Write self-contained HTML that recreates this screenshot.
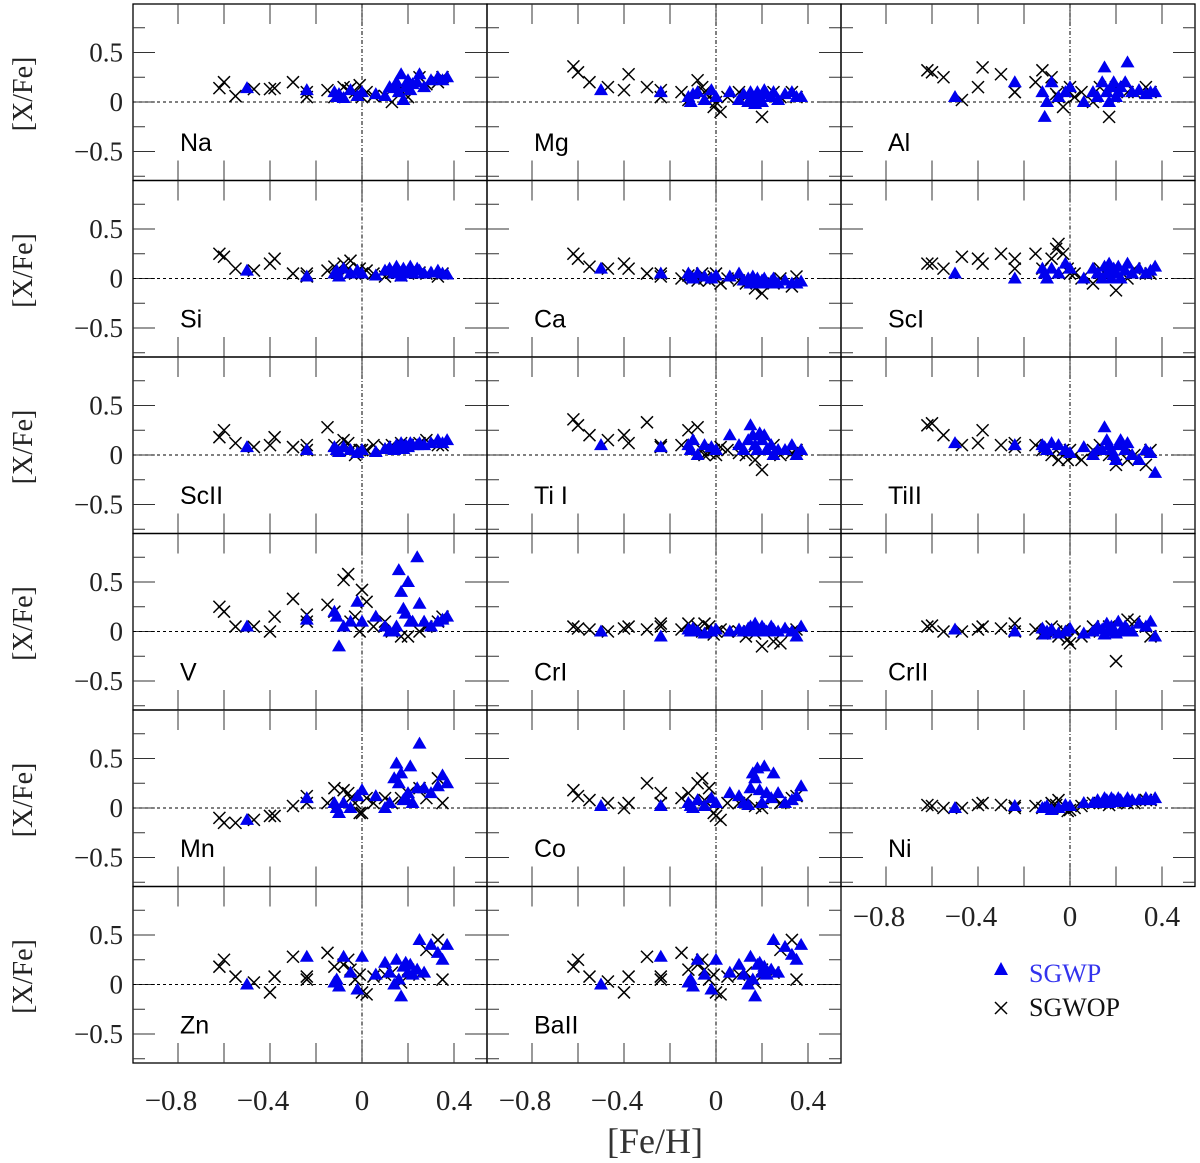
<!DOCTYPE html>
<html><head><meta charset="utf-8"><style>
html,body{margin:0;padding:0;background:#fff;}
svg{display:block;}
</style></head><body>
<svg id="chart" width="1200" height="1163" xmlns="http://www.w3.org/2000/svg"></svg>
<script>
const blueFe=[-0.5,-0.24,-0.12,-0.11,-0.1,-0.08,-0.05,-0.02,0.0,0.06,0.1,0.12,0.14,0.15,0.16,0.17,0.18,0.19,0.2,0.21,0.22,0.24,0.25,0.27,0.3,0.33,0.35,0.37];
const crossFe=[-0.62,-0.6,-0.55,-0.47,-0.4,-0.38,-0.3,-0.24,-0.24,-0.15,-0.12,-0.08,-0.06,-0.05,-0.03,-0.01,0.0,0.02,0.05,0.1,0.13,0.17,0.2,0.25,0.28,0.33,0.35];
const elements=["Na","Mg","Al","Si","Ca","ScI","ScII","Ti I","TiII","V","CrI","CrII","Mn","Co","Ni","Zn","BaII"];
const blueVals=[
[0.14,0.12,0.1,0.05,0.08,0.04,0.12,0.06,0.1,0.08,0.06,0.15,0.14,0.2,0.1,0.28,0.02,0.15,0.22,0.12,0.18,0.2,0.28,0.15,0.22,0.25,0.22,0.25],
[0.12,0.1,0.05,0.0,0.08,0.1,0.02,0.12,0.05,0.1,0.02,0.08,0.0,0.1,0.05,-0.02,0.1,0.05,0.0,0.12,0.08,0.05,0.1,0.02,0.08,0.1,0.05,0.05],
[0.05,0.2,0.1,-0.15,0.0,0.2,0.05,0.1,0.15,0.0,0.1,0.05,0.2,0.35,0.1,0.0,0.15,0.2,0.05,0.1,0.15,0.2,0.4,0.1,0.12,0.08,0.1,0.1],
[0.08,0.02,0.05,0.08,0.02,0.1,0.05,0.08,0.05,0.03,0.08,0.1,0.05,0.12,0.08,0.02,0.1,0.05,0.08,0.12,0.05,0.1,0.08,0.05,0.06,0.08,0.05,0.04],
[0.1,0.05,0.05,0.02,0.0,0.05,0.02,0.0,0.03,0.02,0.05,-0.02,0.0,-0.05,0.02,-0.03,0.0,-0.05,-0.02,0.0,-0.05,-0.03,0.0,-0.05,-0.02,-0.05,-0.05,-0.03],
[0.05,0.0,0.1,0.05,0.0,0.1,0.05,0.15,0.1,0.0,0.1,0.05,0.0,0.12,0.05,0.15,0.0,0.1,0.05,0.12,0.0,0.08,0.15,0.05,0.1,0.05,0.08,0.12],
[0.08,0.05,0.08,0.05,0.03,0.08,0.05,0.02,0.05,0.03,0.06,0.08,0.05,0.1,0.08,0.12,0.06,0.1,0.08,0.12,0.1,0.1,0.12,0.1,0.12,0.15,0.12,0.15],
[0.1,0.08,0.1,0.05,0.15,0.0,0.1,0.08,0.05,0.2,0.1,0.05,0.15,0.3,0.2,0.1,0.05,0.22,0.15,0.2,0.05,0.1,0.0,0.05,0.05,0.1,0.0,0.05],
[0.12,0.1,0.1,0.08,0.05,0.12,0.1,0.05,0.02,0.08,0.0,0.05,0.05,0.28,0.15,0.1,0.05,0.0,-0.05,0.1,0.15,0.05,0.12,0.0,-0.05,0.05,0.02,-0.18],
[0.05,0.12,0.2,0.15,-0.15,0.05,0.1,0.3,0.1,0.15,0.05,0.0,0.0,0.05,0.62,0.4,0.23,0.18,0.5,0.1,0.1,0.75,0.28,0.1,0.05,0.1,0.12,0.15],
[0.0,-0.05,0.02,0.0,0.03,0.0,-0.02,0.0,0.02,0.0,0.02,0.0,0.03,0.05,0.0,0.08,0.02,0.0,0.05,0.02,0.0,0.05,0.02,0.0,0.03,0.0,-0.05,0.05],
[0.02,0.0,0.03,-0.03,0.0,0.02,-0.02,0.0,0.03,-0.02,0.0,0.05,0.02,-0.03,0.08,0.0,0.05,0.02,-0.02,0.1,0.0,0.05,0.02,0.0,0.08,0.05,0.1,-0.05],
[-0.12,0.1,0.05,0.0,-0.05,0.05,0.0,0.12,0.18,0.12,0.0,0.05,0.3,0.45,0.25,0.35,0.08,0.1,0.15,0.42,0.05,0.2,0.65,0.2,0.15,0.22,0.33,0.25],
[0.02,0.02,0.05,0.02,0.0,0.08,0.02,0.1,0.05,0.15,0.12,0.05,0.03,0.2,0.35,0.3,0.4,0.18,0.05,0.42,0.15,0.1,0.35,0.15,0.05,0.08,0.12,0.22],
[0.0,0.02,0.0,0.0,0.02,-0.02,0.0,0.03,0.02,0.05,0.05,0.08,0.05,0.1,0.08,0.05,0.1,0.08,0.06,0.1,0.08,0.06,0.1,0.08,0.08,0.1,0.08,0.1],
[0.0,0.28,0.02,0.05,-0.02,0.28,0.12,-0.05,0.28,0.1,0.22,0.12,0.0,0.25,0.05,-0.12,0.18,0.22,0.12,0.2,0.1,0.15,0.45,0.12,0.4,0.32,0.25,0.4],
[0.0,0.28,0.02,0.05,-0.02,0.25,0.1,-0.05,0.25,0.12,0.2,0.1,0.0,0.28,0.05,-0.12,0.2,0.22,0.12,0.18,0.1,0.15,0.45,0.12,0.38,0.3,0.25,0.4]
];
const crossVals=[
[0.14,0.2,0.06,0.13,0.13,0.14,0.2,0.05,0.1,0.12,0.05,0.15,0.12,0.14,0.1,0.17,0.05,0.1,0.06,0.06,0.0,0.15,0.05,0.25,0.18,0.2,0.25],
[0.36,0.3,0.2,0.15,0.12,0.28,0.15,0.12,0.05,0.1,0.02,0.22,0.15,0.1,0.05,-0.05,0.0,-0.1,0.05,0.1,0.05,0.0,-0.15,0.1,0.05,0.1,0.05],
[0.32,0.3,0.25,0.02,0.15,0.35,0.28,0.1,0.1,0.2,0.32,0.25,0.08,0.05,-0.05,0.1,0.15,0.05,0.1,0.0,0.15,-0.15,0.15,0.1,0.1,0.15,0.1],
[0.25,0.22,0.1,0.08,0.15,0.2,0.05,0.05,0.02,0.08,0.12,0.15,0.1,0.18,0.05,0.1,0.05,0.08,0.05,0.02,0.06,0.03,0.05,0.06,0.05,0.02,0.05],
[0.25,0.2,0.12,0.1,0.15,0.1,0.05,0.02,0.05,0.0,0.03,-0.02,0.05,0.0,-0.02,0.02,0.05,-0.05,0.0,-0.02,-0.05,-0.1,-0.15,-0.05,0.0,-0.08,0.02],
[0.15,0.15,0.1,0.22,0.2,0.15,0.25,0.1,0.2,0.25,0.1,0.2,0.3,0.35,0.25,0.1,0.05,0.05,0.0,-0.05,0.1,0.05,-0.12,0.0,0.1,0.05,0.05],
[0.18,0.25,0.12,0.08,0.1,0.18,0.08,0.1,0.05,0.28,0.1,0.15,0.12,0.05,0.0,0.05,0.05,0.05,0.1,0.08,0.1,0.12,0.1,0.12,0.15,0.1,0.1],
[0.36,0.3,0.2,0.15,0.2,0.12,0.33,0.1,0.08,0.1,0.25,0.28,0.05,0.0,0.02,0.05,0.0,0.08,0.05,0.02,0.0,-0.05,-0.15,0.1,0.0,0.02,0.05],
[0.3,0.32,0.2,0.1,0.12,0.25,0.1,0.12,0.08,0.1,0.05,0.0,0.05,-0.05,0.05,-0.05,0.05,0.0,-0.05,0.05,0.1,0.0,-0.1,-0.05,0.0,-0.1,0.05],
[0.25,0.2,0.05,0.05,0.0,0.15,0.33,0.17,0.1,0.27,0.2,0.52,0.58,0.1,0.15,0.0,0.42,0.3,0.05,0.1,0.0,-0.05,-0.05,0.0,0.05,0.1,0.15],
[0.05,0.03,0.02,0.0,0.03,0.05,0.02,0.08,0.05,0.02,0.08,0.05,0.0,0.08,0.05,-0.03,0.0,0.02,0.0,0.0,-0.05,-0.02,-0.15,-0.1,-0.12,0.0,0.02],
[0.05,0.06,0.0,0.0,0.02,0.05,0.03,0.08,0.0,0.02,-0.02,0.05,0.0,-0.05,0.02,-0.08,-0.12,0.0,-0.05,0.05,0.0,0.05,-0.3,0.12,0.1,0.05,-0.05],
[-0.1,-0.15,-0.15,-0.12,-0.08,-0.08,0.02,0.12,0.05,0.05,0.2,0.18,0.15,0.1,0.05,-0.05,-0.05,0.1,0.05,0.1,0.05,0.1,0.15,0.2,0.1,0.3,0.05],
[0.18,0.12,0.08,0.05,0.0,0.05,0.25,0.15,0.05,0.1,0.15,0.25,0.3,0.08,0.2,-0.05,-0.08,-0.12,0.05,0.05,0.08,0.02,0.0,0.1,0.05,0.1,0.12],
[0.03,0.02,0.0,0.0,0.03,0.05,0.03,0.0,0.02,0.02,0.0,0.05,0.03,0.08,0.0,-0.03,-0.02,0.0,0.02,0.05,0.05,0.03,0.05,0.05,0.05,0.08,0.08],
[0.18,0.25,0.08,0.02,-0.08,0.08,0.28,0.05,0.08,0.32,0.18,0.2,0.25,0.15,0.05,0.1,-0.08,-0.1,0.08,0.1,0.12,0.02,0.15,0.1,0.35,0.45,0.05],
[0.18,0.25,0.08,0.03,-0.08,0.08,0.28,0.05,0.08,0.32,0.15,0.2,0.25,0.15,0.05,0.1,-0.08,-0.1,0.08,0.1,0.12,0.02,0.15,0.12,0.35,0.45,0.05]
];
const xTickLabels=["−0.8","−0.4","0","0.4"];
const xTickVals=[-0.8,-0.4,0,0.4];
const yTickLabels=["0.5","0","−0.5"];
const yTickVals=[0.5,0,-0.5];

const NS="http://www.w3.org/2000/svg";
const svg=document.getElementById('chart');
const L=[133,487,841], T=[4,180.5,357,533.5,710,886.5], W=354, H=176.5;
const XS=230, YS=99;
function el(tag,attrs,parent){const e=document.createElementNS(NS,tag);for(const k in attrs)e.setAttribute(k,attrs[k]);(parent||svg).appendChild(e);return e;}
function sx(c,v){return L[c]+229+v*XS;}
function sy(r,v){return T[r]+98-v*YS;}

elements.forEach((name,i)=>{
  const r=Math.floor(i/3), c=i%3;
  const g=el('g',{});
  
  
  const x0=L[c],y0=T[r];
  const fr=el('rect',{x:x0,y:y0,width:W,height:H,fill:'none',stroke:'#000','stroke-width':1.3},g);
  
  
  // x ticks
  for(let k=-5;k<=2;k++){const v=k*0.2;const px=sx(c,v);if(px<=x0+1||px>=x0+W-1)continue;
    el('line',{x1:px,y1:y0,x2:px,y2:y0+20,stroke:'#333','stroke-width':1},g);
    el('line',{x1:px,y1:y0+H,x2:px,y2:y0+H-20,stroke:'#333','stroke-width':1},g);}
  // y ticks
  for(let k=-3;k<=3;k++){const v=k*0.25;const py=sy(r,v);const len=(k%2===0)?22:12;
    el('line',{x1:x0,y1:py,x2:x0+len,y2:py,stroke:'#333','stroke-width':1},g);
    el('line',{x1:x0+W,y1:py,x2:x0+W-len,y2:py,stroke:'#333','stroke-width':1},g);}
  // zero lines
  el('line',{x1:x0,y1:sy(r,0),x2:x0+W,y2:sy(r,0),stroke:'#000','stroke-width':1,'stroke-dasharray':'3,3'},g);
  el('line',{x1:sx(c,0),y1:y0,x2:sx(c,0),y2:y0+H,stroke:'#000','stroke-width':1,'stroke-dasharray':'4,2,1,2'},g);
  const lab=el('text',{x:x0+47,y:y0+147,'font-family':'Liberation Sans, sans-serif','font-size':25,fill:'#000'},g);
  lab.textContent=name;
  
  
  crossVals[i].forEach((v,j)=>{const px=sx(c,crossFe[j]),py=sy(r,v);
    const p=el('path',{d:`M${px-6},${py-6}L${px+6},${py+6}M${px-6},${py+6}L${px+6},${py-6}`,stroke:'#000','stroke-width':1.5,fill:'none'},g);
    
    });
  blueVals[i].forEach((v,j)=>{const px=sx(c,blueFe[j]),py=sy(r,v);
    const p=el('polygon',{points:`${px},${py-7} ${px+7},${py+5} ${px-7},${py+5}`,fill:'#0000ee'},g);
    
    });
});
// y tick labels & titles
for(let r=0;r<6;r++){
  yTickVals.forEach((v,k)=>{const t=el('text',{x:123,y:sy(r,v)+9,'text-anchor':'end','font-family':'Liberation Serif, serif','font-size':27,fill:'#222'});
    t.textContent=yTickLabels[k];
    
    });
  const cy=T[r]+90;
  const t=el('text',{x:0,y:0,transform:`translate(32,${cy}) rotate(-90)`,'text-anchor':'middle','font-family':'Liberation Serif, serif','font-size':28,fill:'#222'});
  t.textContent='[X/Fe]';
  
  
}
// x tick labels
[[0,1110],[1,1110],[2,926]].forEach(([c,y])=>{
  xTickVals.forEach((v,k)=>{const t=el('text',{x:sx(c,v)+(v<0?-7:0),y:y,'text-anchor':'middle','font-family':'Liberation Serif, serif','font-size':29,fill:'#222'});
    t.textContent=xTickLabels[k];
    
    });
});
const xt=el('text',{x:655,y:1153,'text-anchor':'middle','font-family':'Liberation Serif, serif','font-size':36,fill:'#333'});
xt.textContent='[Fe/H]';


// legend
const lg=el('g',{});


el('polygon',{points:'1001,962 1008,975 994,975',fill:'#0000ee'},lg);
const t1=el('text',{x:1029,y:982,'font-family':'Liberation Serif, serif','font-size':26,fill:'#3333ee'},lg);
t1.textContent='SGWP';


el('path',{d:'M995,1002L1007,1014M995,1014L1007,1002',stroke:'#000','stroke-width':1.5},lg);
const t2=el('text',{x:1029,y:1016,'font-family':'Liberation Serif, serif','font-size':26,fill:'#111'},lg);
t2.textContent='SGWOP';


</script>
</body></html>
